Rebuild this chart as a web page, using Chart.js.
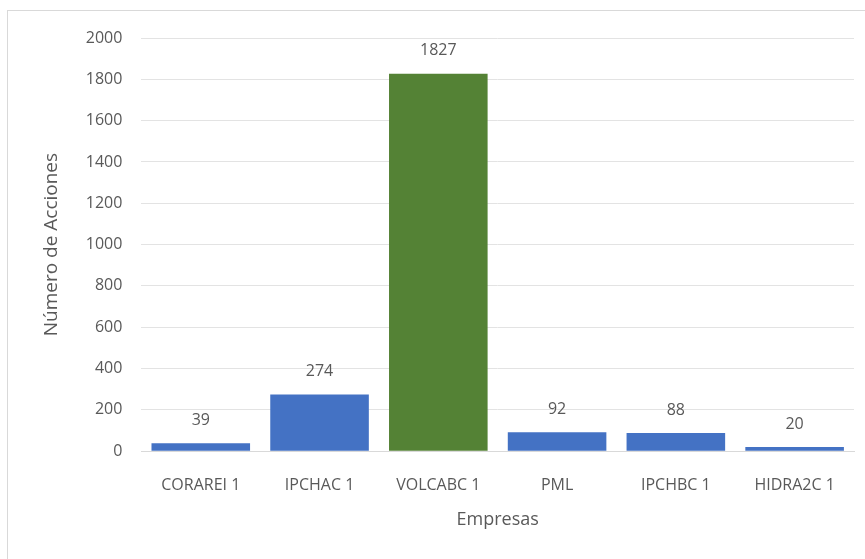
<!DOCTYPE html>
<html>
<head>
<meta charset="utf-8">
<script src="https://cdn.jsdelivr.net/npm/chart.js@4/dist/chart.umd.min.js"></script>
<style>
  body { margin: 0; background: #fff; }
  #frame { position: absolute; left: 7px; top: 10px; width: 900px; height: 600px; border: 1px solid #d9d9d9; }
  #wrap { position: absolute; left: 0; top: 0; width: 865px; height: 559px; }
</style>
</head>
<body>
<div id="frame"></div>
<div id="wrap"><canvas id="myChart" width="865" height="559"></canvas></div>
<script>
// datos del grafico
const empresas = ["CORAREI 1", "IPCHAC 1", "VOLCABC 1", "PML", "IPCHBC 1", "HIDRA2C 1"];
const acciones = [39, 274, 1827, 92, 88, 20];
const colores = ["#4472c4", "#4472c4", "#548235", "#4472c4", "#4472c4", "#4472c4"];
const yTicks = [0, 200, 400, 600, 800, 1000, 1200, 1400, 1600, 1800, 2000];

const FONT = "'Open Sans', 'Noto Sans', sans-serif";
const GRIS = "#595959";

// etiquetas encima de cada barra
const valueLabels = {
  id: "valueLabels",
  afterDatasetsDraw(chart) {
    let ctx = chart.ctx;
    let meta = chart.getDatasetMeta(0);
    ctx.save();
    ctx.font = "16px " + FONT;
    ctx.fillStyle = GRIS;
    ctx.textAlign = "center";
    ctx.textBaseline = "middle";
    meta.data.forEach((bar, i) => {
      ctx.fillText(acciones[i], bar.x, bar.y - 23);
    });
    ctx.restore();
  }
};

var ctx = document.getElementById("myChart").getContext("2d");
var myChart = new Chart(ctx, {
  type: "bar",
  data: {
    labels: empresas,
    datasets: [
      {
        label: "Número de Acciones",
        data: acciones,
        backgroundColor: colores,
        borderWidth: 0,
        barPercentage: 0.83,
        categoryPercentage: 1,
      },
    ],
  },
  plugins: [valueLabels],
  options: {
    responsive: false,
    animation: false,
    layout: { padding: { left: 40, right: 11, top: 38, bottom: 28 } },
    plugins: {
      legend: { display: false },
      tooltip: { enabled: false },
    },
    scales: {
      x: {
        grid: { display: false, drawTicks: false },
        border: { color: "#d9d9d9" },
        ticks: { color: GRIS, font: { family: FONT, size: 16 }, padding: 25, maxRotation: 0, autoSkip: false },
        title: { display: true, text: "Empresas", color: GRIS, font: { family: FONT, size: 18 }, padding: { top: -11, bottom: 0 } },
      },
      y: {
        min: 0,
        max: 2000,
        afterBuildTicks: (axis) => { axis.ticks = yTicks.map((v) => ({ value: v })); },
        grid: { color: "#e3e3e3", drawTicks: false },
        border: { display: false },
        ticks: { color: GRIS, font: { family: FONT, size: 16 }, padding: 19, autoSkip: false, callback: (v) => String(v) },
        title: { display: true, text: "Número de Acciones", color: GRIS, font: { family: FONT, size: 19 }, padding: { top: 0, bottom: 4 } },
      },
    },
  },
});
</script>
</body>
</html>
